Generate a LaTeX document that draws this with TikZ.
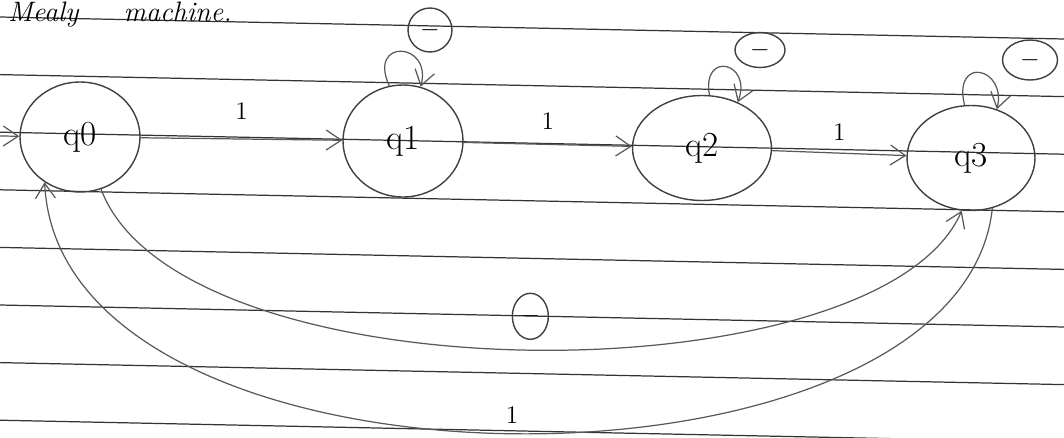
\documentclass[tikz,border=0pt]{standalone}
\usepackage{tikz}
\usetikzlibrary{arrows.meta, positioning, shapes.geometric}

\begin{document}
\begin{tikzpicture}[x=0.02cm, y=-0.02cm,
    ruled/.style={draw=black!80, line width=0.7pt},
    state/.style={ellipse, draw=black!75, line width=0.8pt, inner sep=0pt, font=\fontsize{20}{24}\selectfont},
    arr/.style={-{Straight Barb[length=3mm, width=4mm]}, draw=black!65, line width=0.7pt},
    zero/.style={ellipse, draw=black!75, line width=0.8pt, inner sep=0pt, font=\Large},
    one/.style={font=\Large, inner sep=1pt}
]
\useasboundingbox (0,0) rectangle (1064,437);
% ruled paper
\foreach \k in {0,...,7}
    \draw[ruled] (0,{17+57.6*\k}) -- (1064,{39+57.6*\k});

\node[anchor=base west, font=\fontsize{16}{19}\selectfont\itshape] (title) at (2,21) {Mealy\hspace{1.6em}machine.};

% states
\node[state, minimum width=2.4cm, minimum height=2.2cm] (q0) at (80,137) {q0};
\node[state, minimum width=2.4cm, minimum height=2.24cm] (q1) at (403,141) {q1};
\node[state, minimum width=2.78cm, minimum height=2.1cm] (q2) at (702,148) {q2};
\node[state, minimum width=2.56cm, minimum height=2.1cm] (q3) at (971,158) {q3};

\coordinate (init) at (0,136);
\draw[arr] (init) -- (q0);

\draw[arr] (q0) -- node[one, above=3.5mm] (l01) {1} (q1);
\draw[arr] (q1) -- node[one, above=2.5mm] (l12) {1} (q2);
\draw[arr] (q2) -- node[one, above=2mm] (l23) {1} (q3);

% self loops
\draw[arr] (q1.104) .. controls +(-22,-48) and +(12,-45) .. (q1.72);
\draw[arr] (q2.82) .. controls +(-8,-45) and +(15,-40) .. (q2.52);
\draw[arr] (q3.97) .. controls +(-12,-50) and +(10,-42) .. (q3.62);
\node[zero, minimum width=0.88cm, minimum height=0.88cm] (z1) at (430,30) {$-$};
\node[zero, minimum width=1cm, minimum height=0.7cm] (z2) at (760,50) {$-$};
\node[zero, minimum width=1.1cm, minimum height=0.8cm] (z3) at (1030,60) {$-$};

% long arcs
\draw[arr] (q0.-68) .. controls (180,400) and (880,400) .. node[zero, above=2mm, minimum width=0.72cm, minimum height=0.92cm] (z4) {$-$} (q3.-100);
\draw[arr] (q3.-67) .. controls (960,513) and (60,513) .. node[one, above=1.5mm] (l30) {1} (q0.-128);
\end{tikzpicture}
\end{document}
